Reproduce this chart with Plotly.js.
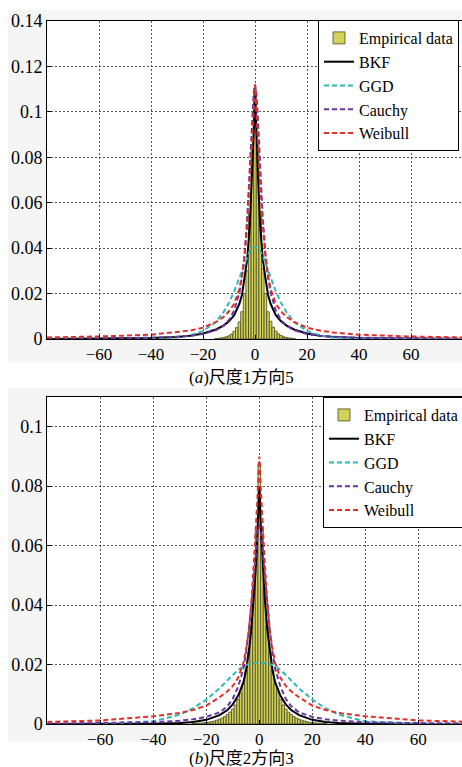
<!DOCTYPE html>
<html>
<head>
<meta charset="utf-8">
<script src="https://cdn.plot.ly/plotly-3.0.1.min.js"></script>
<style>
html,body{margin:0;padding:0;background:#fff;overflow:hidden;width:462px;height:767px;}
#chart{width:480px;height:767px;}
</style>
</head>
<body>
<div id="chart"></div>
<script>
// ---------- Data ----------
var curveX = [-80,-60,-40,-30,-25,-20,-15,-12,-10,-8,-6,-5,-4,-3,-2,-1.5,-1,-0.5,0,0.5,1,1.5,2,3,4,5,6,8,10,12,15,20,25,30,40,60,80];

// (a) scale 1, direction 5
var histXA = [-15,-14,-13,-12,-11,-10,-9,-8,-7,-6,-5,-4,-3,-2,-1,0,1,2,3,4,5,6,7,8,9,10,11,12,13,14,15];
var histYA = [0.0002,0.0003,0.0005,0.0007,0.001,0.0014,0.0022,0.0033,0.005,0.0075,0.012,0.02,0.03,0.055,0.085,0.11,0.085,0.056,0.031,0.02,0.012,0.0078,0.0052,0.0035,0.0023,0.0015,0.001,0.0007,0.0005,0.0003,0.0002];
var bkfA = [0.00003,0.0001,0.0004,0.0009,0.0014,0.0024,0.0042,0.006,0.0078,0.0105,0.0155,0.0195,0.027,0.035,0.05,0.062,0.076,0.091,0.108,0.091,0.076,0.062,0.05,0.035,0.027,0.0195,0.0155,0.0105,0.0078,0.006,0.0042,0.0024,0.0014,0.0009,0.0004,0.0001,0.00003];
var ggdA = [0,0,0.0001,0.0006,0.0016,0.0035,0.0075,0.012,0.016,0.021,0.027,0.0302,0.0335,0.0365,0.0388,0.0395,0.0401,0.0404,0.0405,0.0404,0.0401,0.0395,0.0388,0.0365,0.0335,0.0302,0.027,0.021,0.016,0.012,0.0075,0.0035,0.0016,0.0006,0.0001,0,0];
var cauchyA = [0.00014,0.00025,0.00055,0.00098,0.0014,0.0022,0.0039,0.0059,0.0084,0.0125,0.0205,0.0274,0.0373,0.053,0.0748,0.0875,0.0995,0.1085,0.112,0.1085,0.0995,0.0875,0.0748,0.053,0.0373,0.0274,0.0205,0.0125,0.0084,0.0059,0.0039,0.0022,0.0014,0.00098,0.00055,0.00025,0.00014];
var weibullA = [0.0007,0.0011,0.0019,0.0029,0.0037,0.005,0.0075,0.0098,0.0122,0.0155,0.022,0.028,0.037,0.05,0.068,0.078,0.09,0.1,0.112,0.1,0.09,0.078,0.068,0.05,0.037,0.028,0.022,0.0155,0.0122,0.0098,0.0075,0.005,0.0037,0.0029,0.0019,0.0011,0.0007];

// (b) scale 2, direction 3
var histXB = [-25,-24,-23,-22,-21,-20,-19,-18,-17,-16,-15,-14,-13,-12,-11,-10,-9,-8,-7,-6,-5,-4,-3,-2,-1,0,1,2,3,4,5,6,7,8,9,10,11,12,13,14,15,16,17,18,19,20,21,22,23,24,25];
var histYB = [0.0002,0.0002,0.0003,0.0003,0.0004,0.0005,0.0006,0.0008,0.001,0.0013,0.0016,0.002,0.0025,0.0032,0.004,0.005,0.0064,0.0082,0.0105,0.0135,0.018,0.024,0.033,0.046,0.065,0.0876,0.065,0.046,0.033,0.024,0.018,0.0135,0.0105,0.0082,0.0064,0.005,0.004,0.0032,0.0025,0.002,0.0016,0.0013,0.001,0.0008,0.0006,0.0005,0.0004,0.0003,0.0003,0.0002,0.0002];
var bkfB = [0,0,0.0001,0.0003,0.0007,0.0014,0.003,0.0047,0.0066,0.0095,0.014,0.018,0.024,0.032,0.043,0.05,0.058,0.068,0.08,0.068,0.058,0.05,0.043,0.032,0.024,0.018,0.014,0.0095,0.0066,0.0047,0.003,0.0014,0.0007,0.0003,0.0001,0,0];
var ggdB = [0,0.00005,0.0009,0.0031,0.0053,0.0082,0.012,0.0145,0.0165,0.0182,0.0195,0.0199,0.0202,0.0204,0.0205,0.0205,0.0206,0.0206,0.0206,0.0206,0.0206,0.0205,0.0205,0.0204,0.0202,0.0199,0.0195,0.0182,0.0165,0.0145,0.012,0.0082,0.0053,0.0031,0.0009,0.00005,0];
var cauchyB = [0.0002,0.0003,0.0006,0.0011,0.0016,0.0024,0.0039,0.006,0.0085,0.0125,0.0185,0.024,0.031,0.04,0.05,0.056,0.061,0.065,0.067,0.065,0.061,0.056,0.05,0.04,0.031,0.024,0.0185,0.0125,0.0085,0.006,0.0039,0.0024,0.0016,0.0011,0.0006,0.0003,0.0002];
var weibullB = [0.0007,0.0012,0.0026,0.0037,0.0047,0.0062,0.009,0.011,0.0128,0.0155,0.0205,0.025,0.031,0.041,0.055,0.062,0.071,0.08,0.09,0.08,0.071,0.062,0.055,0.041,0.031,0.025,0.0205,0.0155,0.0128,0.011,0.009,0.0062,0.0047,0.0037,0.0026,0.0012,0.0007];

var xTickVals = [-60,-40,-20,0,20,40,60];
var yTickValsA = [0,0.02,0.04,0.06,0.08,0.1,0.12,0.14];
var yTickTextA = ['0','0.02','0.04','0.06','0.08','0.1','0.12','0.14'];
var yTickValsB = [0,0.02,0.04,0.06,0.08,0.1];
var yTickTextB = ['0','0.02','0.04','0.06','0.08','0.1'];
var seriesNames = ['Empirical data','BKF','GGD','Cauchy','Weibull'];
var captionA = '(<i>a</i>)尺度1方向5';
var captionB = '(<i>b</i>)尺度2方向3';

// ---------- Styles ----------
var W = 480, H = 767;
var serif = 'Liberation Serif, Times New Roman, serif';
var dashPat = '5px,3px';
var colBKF = '#000000', colGGD = '#2fb8b8', colCau = '#6a34a6', colWei = '#e0302a';

function makeTraces(hx, hy, bkf, ggd, cau, wei, xa, ya, leg) {
  return [
    {type:'bar', x:hx, y:hy, width:1, name:seriesNames[0], xaxis:xa, yaxis:ya, legend:leg,
     marker:{color:'#d2d25a', line:{color:'#4a4a1e', width:0.8}}},
    {type:'scatter', mode:'lines', x:curveX, y:bkf, name:seriesNames[1], xaxis:xa, yaxis:ya, legend:leg,
     line:{color:colBKF, width:2}},
    {type:'scatter', mode:'lines', x:curveX, y:ggd, name:seriesNames[2], xaxis:xa, yaxis:ya, legend:leg,
     line:{color:colGGD, width:2, dash:dashPat}},
    {type:'scatter', mode:'lines', x:curveX, y:cau, name:seriesNames[3], xaxis:xa, yaxis:ya, legend:leg,
     line:{color:colCau, width:2, dash:dashPat}},
    {type:'scatter', mode:'lines', x:curveX, y:wei, name:seriesNames[4], xaxis:xa, yaxis:ya, legend:leg,
     line:{color:colWei, width:2, dash:dashPat}}
  ];
}

var data = makeTraces(histXA, histYA, bkfA, ggdA, cauchyA, weibullA, 'x', 'y', 'legend')
  .concat(makeTraces(histXB, histYB, bkfB, ggdB, cauchyB, weibullB, 'x2', 'y2', 'legend2'));

function xAxis(d0, d1, anchor) {
  return {domain:[d0/W, d1/W], range:[-80,80], anchor:anchor, tickvals:xTickVals,
    showline:true, mirror:true, linecolor:'#000', linewidth:1, ticks:'inside', ticklen:4, tickcolor:'#000',
    showgrid:true, gridcolor:'#555', griddash:'2px,2px', gridwidth:1, zeroline:false,
    tickfont:{family:serif, size:17, color:'#000'}, fixedrange:true};
}
function yAxis(top, bottom, r, tv, tt, anchor) {
  return {domain:[1-bottom/H, 1-top/H], range:r, anchor:anchor, tickvals:tv, ticktext:tt,
    showline:true, mirror:true, linecolor:'#000', linewidth:1, ticks:'inside', ticklen:4, tickcolor:'#000',
    showgrid:true, gridcolor:'#555', griddash:'2px,2px', gridwidth:1, zeroline:false,
    tickfont:{family:serif, size:18, color:'#000'}, fixedrange:true};
}

function paperRect(x0, y0, x1, y1, col) {
  return {type:'rect', xref:'paper', yref:'paper', x0:x0/W, x1:x1/W, y0:1-y1/H, y1:1-y0/H,
    fillcolor:col, line:{width:0}, layer:'below'};
}

var layout = {
  width:W, height:H, margin:{l:0, r:0, t:0, b:0},
  paper_bgcolor:'#ffffff', plot_bgcolor:'#ffffff',
  bargap:0, barmode:'overlay', showlegend:true,
  xaxis: xAxis(47, 463, 'y'),
  yaxis: yAxis(21, 339, [0,0.14], yTickValsA, yTickTextA, 'x'),
  xaxis2: xAxis(47.3, 471.3, 'y2'),
  yaxis2: yAxis(397, 724, [0,0.11], yTickValsB, yTickTextB, 'x2'),
  legend:{x:318/W, y:1-20/H, xanchor:'left', yanchor:'top', bgcolor:'#fff', bordercolor:'#000', borderwidth:1,
    font:{family:serif, size:16, color:'#000'}, tracegroupgap:0},
  legend2:{x:323/W, y:1-397/H, xanchor:'left', yanchor:'top', bgcolor:'#fff', bordercolor:'#000', borderwidth:1,
    font:{family:serif, size:16, color:'#000'}, tracegroupgap:0},
  shapes:[
    paperRect(8, 10, W, 362, '#f5f5f5'),
    paperRect(8, 388, W, 742, '#f5f5f5'),
    paperRect(47, 21, 463, 339, '#ffffff'),
    paperRect(47.3, 397, 471.3, 724, '#ffffff')
  ],
  annotations:[
    {xref:'paper', yref:'paper', x:241/W, y:1-377/H, xanchor:'center', yanchor:'middle', showarrow:false,
     text:captionA, font:{family:'Liberation Serif, Noto Sans CJK SC', size:17, color:'#000'}},
    {xref:'paper', yref:'paper', x:241/W, y:1-758/H, xanchor:'center', yanchor:'middle', showarrow:false,
     text:captionB, font:{family:'Liberation Serif, Noto Sans CJK SC', size:17, color:'#000'}}
  ]
};

Plotly.newPlot('chart', data, layout, {displayModeBar:false, staticPlot:true});
</script>
</body>
</html>
